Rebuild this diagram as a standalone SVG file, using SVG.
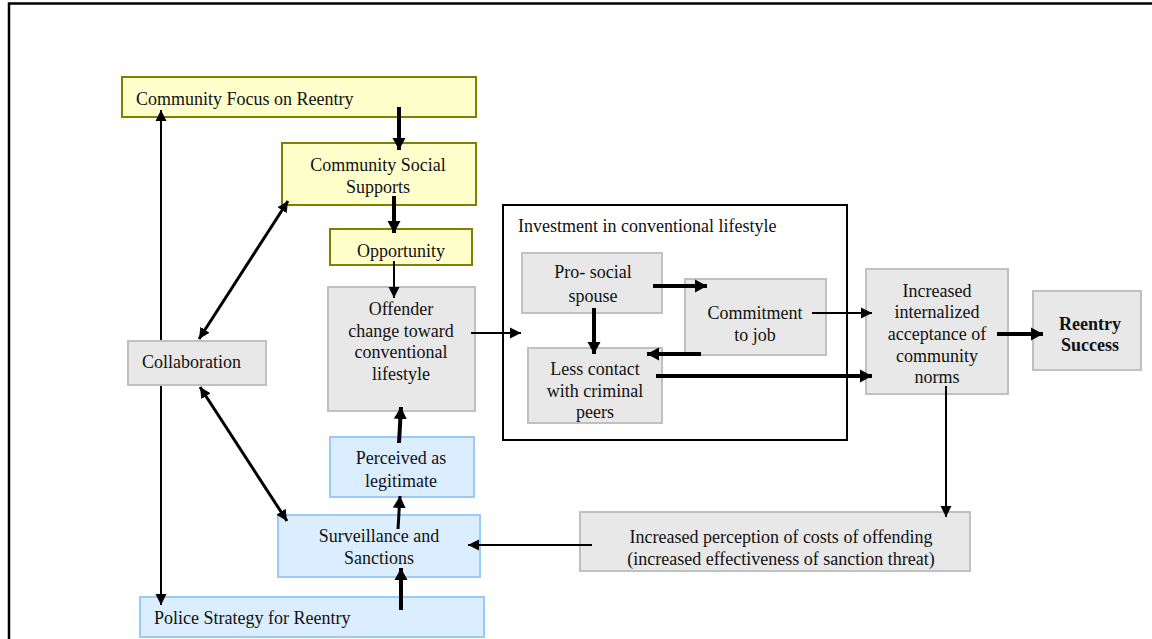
<svg xmlns="http://www.w3.org/2000/svg" width="1152" height="639" viewBox="0 0 1152 639">
<style>
text{font-family:"Liberation Serif","Times New Roman",serif;font-size:18px;fill:#111}
.c{text-anchor:middle}
.b{font-weight:bold}
.y{fill:#ffffcc;stroke:#808000;stroke-width:2}
.g{fill:#e8e8e8;stroke:#c0c0c0;stroke-width:2}
.bl{fill:#dbeeff;stroke:#9ccaf5;stroke-width:2}
.k{stroke:#000;fill:none}
.t1{stroke-width:2}
.t2{stroke-width:3}
.t3{stroke-width:4}
</style>
<defs>
<marker id="ah" markerUnits="userSpaceOnUse" markerWidth="14" markerHeight="14" refX="12" refY="7" orient="auto-start-reverse" viewBox="0 0 14 14"><path d="M0,0.5 L12,7 L0,13.5 z" fill="#000"/></marker>
<marker id="as" markerUnits="userSpaceOnUse" markerWidth="12" markerHeight="12" refX="11" refY="6" orient="auto-start-reverse" viewBox="0 0 12 12"><path d="M0,0.5 L11,6 L0,11.5 z" fill="#000"/></marker>
</defs>
<rect width="1152" height="639" fill="#fff"/>
<path d="M9,640 V3.5 H1152" fill="none" stroke="#000" stroke-width="2.5"/>

<g id="community-focus"><rect class="y" x="122" y="77" width="354" height="40"/><text x="136" y="105">Community Focus on Reentry</text></g>
<g id="community-social-supports"><rect class="y" x="282" y="143" width="194" height="62"/><text class="c" x="378" y="171">Community Social</text><text class="c" x="378" y="193">Supports</text></g>
<g id="opportunity"><rect class="y" x="330" y="229" width="142" height="36"/><text class="c" x="401" y="257">Opportunity</text></g>
<g id="offender-change"><rect class="g" x="328" y="287" width="147" height="124"/><text class="c" x="401" y="315">Offender</text><text class="c" x="401" y="337">change toward</text><text class="c" x="401" y="358">conventional</text><text class="c" x="401" y="380">lifestyle</text></g>
<g id="collaboration"><rect class="g" x="128" y="341" width="138" height="44"/><text x="142" y="368">Collaboration</text></g>
<g id="perceived-legitimate"><rect class="bl" x="330" y="437" width="144" height="60"/><text class="c" x="401" y="464">Perceived as</text><text class="c" x="401" y="487">legitimate</text></g>
<g id="surveillance-sanctions"><rect class="bl" x="278" y="515" width="202" height="62"/><text class="c" x="379" y="542">Surveillance and</text><text class="c" x="379" y="564">Sanctions</text></g>
<g id="police-strategy"><rect class="bl" x="140" y="597" width="344" height="40"/><text x="154" y="624">Police Strategy for Reentry</text></g>

<g id="investment"><rect x="503" y="205" width="344" height="235" fill="none" stroke="#000" stroke-width="2"/><text x="518" y="232">Investment in conventional lifestyle</text></g>
<g id="pro-social-spouse"><rect class="g" x="522" y="253" width="140" height="60"/><text class="c" x="593" y="278">Pro- social</text><text class="c" x="593" y="302">spouse</text></g>
<g id="commitment-job"><rect class="g" x="685" y="279" width="141" height="76"/><text class="c" x="755" y="319">Commitment</text><text class="c" x="755" y="341">to job</text></g>
<g id="less-contact"><rect class="g" x="528" y="348" width="134" height="75"/><text class="c" x="595" y="375">Less contact</text><text class="c" x="595" y="397">with criminal</text><text class="c" x="595" y="418">peers</text></g>

<g id="increased-acceptance"><rect class="g" x="866" y="269" width="142" height="125"/><text class="c" x="937" y="297">Increased</text><text class="c" x="937" y="318">internalized</text><text class="c" x="937" y="340">acceptance of</text><text class="c" x="937" y="362">community</text><text class="c" x="937" y="383">norms</text></g>
<g id="reentry-success"><rect class="g" x="1033" y="291" width="108" height="79"/><text class="c b" x="1090" y="330">Reentry</text><text class="c b" x="1090" y="351">Success</text></g>
<g id="increased-perception"><rect class="g" x="580" y="512" width="390" height="59"/><text class="c" x="781" y="543">Increased perception of costs of offending</text><text class="c" x="781" y="565">(increased effectiveness of sanction threat)</text></g>

<g id="connectors">
<line class="k t1" x1="161" y1="340" x2="161" y2="110" marker-end="url(#as)"/>
<line class="k t1" x1="161" y1="386" x2="161" y2="605" marker-end="url(#as)"/>
<line class="k t2" x1="288" y1="201" x2="199" y2="339" marker-start="url(#as)" marker-end="url(#as)"/>
<line class="k t2" x1="200" y1="387" x2="287" y2="521" marker-start="url(#as)" marker-end="url(#as)"/>
<line class="k t3" x1="399" y1="107" x2="399" y2="150" marker-end="url(#ah)"/>
<line class="k t3" x1="394" y1="196" x2="394" y2="233" marker-end="url(#ah)"/>
<line class="k t1" x1="394" y1="261" x2="394" y2="298" marker-end="url(#as)"/>
<line class="k t3" x1="401" y1="610" x2="401" y2="568" marker-end="url(#ah)"/>
<line class="k t2" x1="398" y1="529" x2="400" y2="496" marker-end="url(#ah)"/>
<line class="k t3" x1="399" y1="443" x2="401" y2="407" marker-end="url(#ah)"/>
<line class="k t1" x1="471" y1="333" x2="521" y2="333" marker-end="url(#as)"/>
<line class="k t3" x1="653" y1="286" x2="707" y2="286" marker-end="url(#ah)"/>
<line class="k t3" x1="594" y1="308" x2="594" y2="354" marker-end="url(#ah)"/>
<line class="k t3" x1="701" y1="354" x2="647" y2="354" marker-end="url(#ah)"/>
<line class="k t3" x1="656" y1="376" x2="872" y2="376" marker-end="url(#ah)"/>
<line class="k t1" x1="812" y1="313" x2="872" y2="313" marker-end="url(#as)"/>
<line class="k t3" x1="997" y1="334" x2="1043" y2="334" marker-end="url(#ah)"/>
<line class="k t1" x1="946" y1="386" x2="946" y2="517" marker-end="url(#as)"/>
<line class="k t1" x1="592" y1="545" x2="468" y2="545" marker-end="url(#as)"/>
</g>
</svg>
